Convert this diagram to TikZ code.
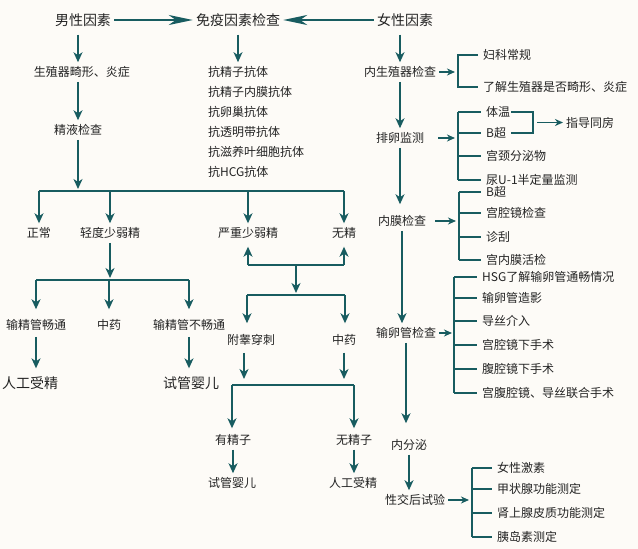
\documentclass[tikz,border=0pt]{standalone}
\usepackage{fontspec}
\setmainfont{Noto Sans CJK SC}
\usetikzlibrary{arrows.meta}
\definecolor{xian}{RGB}{24,92,96}
\definecolor{zi}{RGB}{35,35,35}
\definecolor{di}{RGB}{253,251,247}
\tikzset{
  lbl/.style={inner xsep=3pt, inner ysep=4pt, text=zi, font=\fontsize{12}{14}\selectfont},
  big/.style={lbl, font=\fontsize{14}{16}\selectfont},
  item/.style={lbl, anchor=west, inner xsep=1pt},
  gan/.style={draw=xian, line width=1.6pt},
  zhe/.style={draw=xian, line width=1.2pt},
  arr/.style={gan, -{Stealth[length=10pt,width=9pt,inset=3pt]}},
  sarr/.style={gan, -{Stealth[length=8pt,width=7pt,inset=2.5pt]}},
  toparr/.style={draw=xian, line width=2.4pt, -{Stealth[length=24pt,width=10pt,inset=7pt]}},
}
\begin{document}
\begin{tikzpicture}[x=1pt, y=-1pt]
\useasboundingbox[fill=di] (0,0) rectangle (638,549);

% top row
\node[big] (nan) at (83,20) {男性因素};
\node[big] (mian) at (238,20) {免疫因素检查};
\node[big] (nv) at (405,20) {女性因素};
\draw[toparr] (nan) -- (mian);
\draw[toparr] (nv) -- (mian);

% immune
\foreach \t [count=\i] in {抗精子抗体,抗精子内膜抗体,抗卵巢抗体,抗透明带抗体,抗滋养叶细胞抗体,抗HCG抗体}
  \node[item] (kang\i) at (207,52+20*\i) {\t};
\draw[arr, shorten <=4pt] (mian.south) -- (mian.south |- kang1.north);

% male
\node[lbl] (jixing) at (82,72) {生殖器畸形、炎症};
\node[lbl] (jingye) at (78,130) {精液检查};
\draw[arr, shorten <=4pt] (nan.south -| jingye) -- (jingye |- jixing.north);
\draw[arr] (jixing.south -| jingye) -- (jingye.north);
\coordinate (fen) at (78,191);
\draw[arr, shorten >=2pt] (jingye.south) -- (fen);

\node[lbl] (zhengchang) at (39,233) {正常};
\node[lbl] (qingdu) at (110,233) {轻度少弱精};
\node[lbl] (yanzhong) at (248,233) {严重少弱精};
\node[lbl] (wujing) at (344,233) {无精};
\draw[gan] (zhengchang |- fen) -- (wujing |- fen);
\foreach \n in {zhengchang,qingdu,yanzhong,wujing}
  \draw[arr] (\n |- fen) -- (\n.north);

\coordinate (qd) at (110,280);
\draw[arr, shorten >=2pt] (qingdu.south) -- (qd);
\node[lbl] (changtong) at (36,325) {输精管畅通};
\node[lbl] (zhongyao) at (109,325) {中药};
\node[lbl] (buchang) at (189,325) {输精管不畅通};
\draw[gan] (changtong |- qd) -- (buchang |- qd);
\foreach \n in {changtong,zhongyao,buchang}
  \draw[arr, shorten >=6pt] (\n |- qd) -- (\n.north);

\node[big] (rengong) at (30,383) {人工受精};
\node[big] (shiguan) at (191,383) {试管婴儿};
\draw[arr, shorten <=2pt, shorten >=4pt] (changtong.south) -- (changtong.south |- rengong.north);
\draw[arr, shorten <=2pt, shorten >=4pt] (buchang.south) -- (buchang.south |- shiguan.north);

% middle
\coordinate (yz) at (296,265);
\draw[gan] (yanzhong |- yz) -- (wujing |- yz);
\draw[arr, shorten >=4pt] (yanzhong |- yz) -- (yanzhong.south);
\draw[arr, shorten >=4pt] (wujing |- yz) -- (wujing.south);
\coordinate (zyL) at (247,295);
\coordinate (zyR) at (345,295);
\draw[arr, shorten >=2pt] (yz) -- (yz |- zyL);
\draw[gan] (zyL) -- (zyR);
\node[lbl] (fugao) at (251,340) {附睾穿刺};
\node[lbl] (zhongyao2) at (344,340) {中药};
\draw[arr, shorten >=7pt] (zyL) -- (zyL |- fugao.north);
\draw[arr, shorten >=7pt] (zyR) -- (zyR |- zhongyao2.north);

\coordinate (jl) at (232,385);
\coordinate (jr) at (354,385);
\draw[arr, shorten <=3pt, shorten >=6pt] ([xshift=-7pt]fugao.south) -- ([xshift=-7pt]fugao.south |- jl);
\draw[arr, shorten <=3pt, shorten >=6pt] (zhongyao2.south) -- (zhongyao2.south |- jr);
\draw[gan] (jl) -- (jr);
\node[lbl] (youjing) at (233,440) {有精子};
\node[lbl] (wujingzi) at (354,440) {无精子};
\draw[arr, shorten >=2pt] (jl) -- (jl |- youjing.north);
\draw[arr, shorten >=2pt] (jr) -- (jr |- wujingzi.north);
\node[lbl] (shiguan2) at (232,483) {试管婴儿};
\node[lbl] (rengong2) at (353,483) {人工受精};
\draw[arr] (youjing.south) -- (youjing.south |- shiguan2.north);
\draw[arr] (wujingzi.south) -- (wujingzi.south |- rengong2.north);

% female
\node[lbl] (neisheng) at (400,72) {内生殖器检查};
\node[lbl] (pailuan) at (400,138) {排卵监测};
\node[lbl] (neimo) at (402,221) {内膜检查};
\node[lbl] (shuluan) at (406,333) {输卵管检查};
\node[lbl] (neifen) at (409,445) {内分泌};
\node[lbl] (xingjiao) at (415,500) {性交后试验};
\draw[arr, shorten <=4pt] (nv.south -| neisheng) -- (neisheng.north);
\draw[arr] (neisheng.south) -- (pailuan.north);
\draw[arr, shorten >=7pt] (pailuan.south) -- (pailuan.south |- neimo.north);
\draw[arr] (neimo.south) -- (neimo.south |- shuluan.north);
\draw[arr, shorten >=12pt] (shuluan.south) -- (shuluan.south |- neifen.north);
\draw[arr] (neifen.south) -- (neifen.south |- xingjiao.north);

% inner genital check
\coordinate (ka) at (458,72);
\node[item] (fuke) at (482,55) {妇科常规};
\node[item] (liaojie) at (482,87) {了解生殖器是否畸形、炎症};
\draw[zhe, shorten <=4pt] (fuke.west) -| (ka);
\draw[zhe] (ka) |- ([xshift=-4pt]liaojie.west);
\draw[sarr, shorten >=3pt] (neisheng) -- (ka);

% ovulation
\coordinate (kb) at (458,138);
\foreach \t/\y [count=\i] in {体温/112,B超/133,宫颈分泌物/156,尿U-1半定量监测/180}
{
  \node[item] (pl\i) at (485,\y) {\t};
  \draw[zhe, shorten >=4pt] (pl\i.west -| kb) -- (pl\i.west);
}
\draw[zhe] (pl1.west -| kb) -- (pl4.west -| kb);
\draw[sarr, shorten <=11pt, shorten >=3pt] (pailuan) -- (kb);
\coordinate (zd) at (533,122.5);
\node[lbl, anchor=west] (zhidao) at (563,122.5) {指导同房};
\draw[zhe] (pl1.east) -| (zd) |- (pl2.east -| pl1.east);
\draw[sarr, shorten <=4pt] (zd) -- (zhidao);

% endometrium
\coordinate (kc) at (459,221);
\foreach \t/\y [count=\i] in {B超/192,宫腔镜检查/213,诊刮/237,宫内膜活检/260}
{
  \node[item] (nm\i) at (485,\y) {\t};
  \draw[zhe, shorten >=4pt] (nm\i.west -| kc) -- (nm\i.west);
}
\draw[zhe] (nm1.west -| kc) -- (nm4.west -| kc);
\draw[sarr, shorten <=6pt, shorten >=3pt] (neimo) -- (kc);

% tubes
\coordinate (kd) at (454,333);
\foreach \t/\y [count=\i] in {HSG了解输卵管通畅情况/277,输卵管造影/298,导丝介入/321,宫腔镜下手术/345,腹腔镜下手术/369,宫腹腔镜、导丝联合手术/393}
{
  \node[item] (sl\i) at (481,\y) {\t};
  \draw[zhe, shorten >=4pt] (sl\i.west -| kd) -- (sl\i.west);
}
\draw[zhe] (sl1.west -| kd) -- (sl6.west -| kd);
\draw[sarr, shorten >=2pt] (shuluan) -- (kd);

% post-coital
\coordinate (ke) at (472,501);
\foreach \t/\y [count=\i] in {女性激素/468,甲状腺功能测定/489,肾上腺皮质功能测定/513,胰岛素测定/537}
{
  \node[item] (xj\i) at (496,\y) {\t};
  \draw[zhe, shorten >=4pt] (xj\i.west -| ke) -- (xj\i.west);
}
\draw[zhe] (xj1.west -| ke) -- (xj4.west -| ke);
\draw[sarr, shorten >=3pt] (xingjiao.east) -- (xingjiao.east -| ke);
\end{tikzpicture}
\end{document}
